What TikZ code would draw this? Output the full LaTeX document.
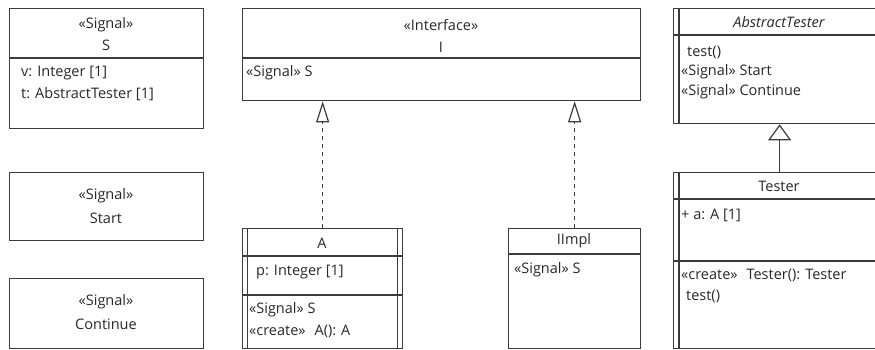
\documentclass[tikz,border=0pt]{standalone}
\usepackage{fontspec}
\setmainfont{Open Sans}
\usetikzlibrary{positioning, arrows.meta}
\definecolor{boxline}{RGB}{60,60,60}
\definecolor{umltext}{RGB}{40,40,40}
\tikzset{
    classbox/.style={draw=boxline, line width=1.3pt, fill=white, anchor=north west, inner sep=0pt},
    divider/.style={draw=boxline, line width=1.1pt},
    activeside/.style={draw=boxline, line width=1.1pt},
    centred/.style={text=umltext, inner sep=0pt, font=\fontsize{14.5}{16}\selectfont},
    entry/.style={centred, anchor=west},
    realize/.style={draw=boxline, line width=1.2pt, dash pattern=on 4pt off 4pt, -{Triangle[open, length=21pt, width=13pt]}},
    generalize/.style={draw=boxline, line width=1.2pt, -{Triangle[open, length=16pt, width=23pt]}}
}

\begin{document}
\begin{tikzpicture}[x=1pt, y=-1pt]
    \useasboundingbox (0,0) rectangle (875,350);
    \fill[white] (0,0) rectangle (875,350);
    \clip (0,0) rectangle (875,350);

    % signals on the left
    \node[classbox, minimum width=194pt, minimum height=120pt] (S) at (9,8) {};
    \draw[divider] (S.west |- 0,58) -- (S.east |- 0,58);
    \node[centred] (Sstereo) at (106,25) {«Signal»};
    \node[centred] (Sname) at (106,45) {S};
    \node[entry] (Sv) at (21,73) {v: Integer [1]};
    \node[entry] (St) at (21,94) {t: AbstractTester [1]};

    \node[classbox, minimum width=194pt, minimum height=68pt] (Start) at (9,172) {};
    \node[centred] (Startstereo) at (106,196) {«Signal»};
    \node[centred] (Startname) at (106,218) {Start};

    \node[classbox, minimum width=194pt, minimum height=70pt] (Continue) at (9,278) {};
    \node[centred] (Contstereo) at (106,302) {«Signal»};
    \node[centred] (Contname) at (106,324) {Continue};

    % interface and its realizations
    \node[classbox, minimum width=398pt, minimum height=92pt] (I) at (242,8) {};
    \draw[divider] (I.west |- 0,58) -- (I.east |- 0,58);
    \node[centred] (Istereo) at (441,25) {«Interface»};
    \node[centred] (Iname) at (441,47) {I};
    \node[entry] (Isig) at (246,73) {«Signal» S};

    \node[classbox, minimum width=160pt, minimum height=120pt] (A) at (242,228) {};
    \draw[activeside] ([xshift=5.5pt]A.north west) -- ([xshift=5.5pt]A.south west);
    \draw[activeside] ([xshift=-5.5pt]A.north east) -- ([xshift=-5.5pt]A.south east);
    \draw[divider] (A.west |- 0,256) -- (A.east |- 0,256);
    \draw[divider] (A.west |- 0,295) -- (A.east |- 0,295);
    \node[centred] (Aname) at (322,243) {A};
    \node[entry] (Ap) at (256,272) {p: Integer [1]};
    \node[entry] (Asig) at (249,310) {«Signal» S};
    \node[entry] (Acreate) at (249,331) {«create»\hspace{9pt}A(): A};

    \node[classbox, minimum width=132pt, minimum height=120pt] (IImpl) at (508,228) {};
    \draw[divider] (IImpl.west |- 0,254) -- (IImpl.east |- 0,254);
    \node[centred] (IImplname) at (574,241) {IImpl};
    \node[entry] (IImplsig) at (514,270) {«Signal» S};

    \draw[realize] (A.north) -- (A.north |- I.south);
    \draw[realize] (IImpl.north) -- (IImpl.north |- I.south);

    % tester hierarchy, cut off at the right edge
    \node[classbox, minimum width=212pt, minimum height=115pt] (AbsT) at (673,8) {};
    \draw[activeside] ([xshift=6pt]AbsT.north west) -- ([xshift=6pt]AbsT.south west);
    \draw[activeside] ([xshift=-6pt]AbsT.north east) -- ([xshift=-6pt]AbsT.south east);
    \draw[divider] (AbsT.west |- 0,35) -- (AbsT.east |- 0,35);
    \node[centred, font=\fontsize{14.5}{16}\selectfont\itshape] (AbsTname) at (779,22) {AbstractTester};
    \node[entry] (AbsTtest) at (687,52) {test()};
    \node[entry] (AbsTstart) at (681,72) {«Signal» Start};
    \node[entry] (AbsTcont) at (681,92) {«Signal» Continue};

    \node[classbox, minimum width=212pt, minimum height=176pt] (Tester) at (673,172) {};
    \draw[activeside] ([xshift=6pt]Tester.north west) -- ([xshift=6pt]Tester.south west);
    \draw[activeside] ([xshift=-6pt]Tester.north east) -- ([xshift=-6pt]Tester.south east);
    \draw[divider] (Tester.west |- 0,199) -- (Tester.east |- 0,199);
    \draw[divider] (Tester.west |- 0,261) -- (Tester.east |- 0,261);
    \node[centred] (Testername) at (779,186) {Tester};
    \node[entry] (Testera) at (681,215) {+ a: A [1]};
    \node[entry] (Testercreate) at (681,275) {«create»\hspace{9pt}Tester(): Tester};
    \node[entry] (Testertest) at (686,296) {test()};

    \draw[generalize] (Tester.north) -- (Tester.north |- AbsT.south);
\end{tikzpicture}
\end{document}
